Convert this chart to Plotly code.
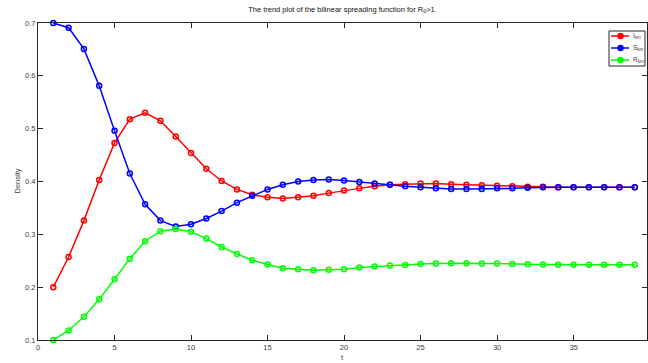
import plotly.graph_objects as go

t = list(range(1, 40))
I_km = [0.200, 0.257, 0.326, 0.403, 0.473, 0.518, 0.530, 0.515, 0.485, 0.454,
        0.424, 0.401, 0.385, 0.375, 0.370, 0.368, 0.370, 0.373, 0.378, 0.383,
        0.387, 0.391, 0.394, 0.395, 0.396, 0.396, 0.395, 0.394, 0.393, 0.392,
        0.391, 0.390, 0.390, 0.389, 0.389, 0.389, 0.389, 0.389, 0.389]
S_km = [0.700, 0.691, 0.651, 0.581, 0.496, 0.415, 0.357, 0.326, 0.315, 0.319,
        0.330, 0.344, 0.360, 0.373, 0.385, 0.394, 0.400, 0.403, 0.404, 0.402,
        0.399, 0.396, 0.394, 0.391, 0.389, 0.387, 0.386, 0.386, 0.386, 0.387,
        0.387, 0.388, 0.389, 0.389, 0.389, 0.389, 0.389, 0.389, 0.389]
R_km = [0.100, 0.118, 0.144, 0.177, 0.215, 0.254, 0.287, 0.306, 0.310, 0.305,
        0.292, 0.276, 0.263, 0.251, 0.243, 0.236, 0.234, 0.232, 0.233, 0.234,
        0.237, 0.239, 0.241, 0.242, 0.244, 0.245, 0.2455, 0.2455, 0.245, 0.245,
        0.244, 0.2436, 0.243, 0.2425, 0.2423, 0.2423, 0.2423, 0.2423, 0.2423]

series = [("I<sub>km</sub>", I_km, "#ff0000"),
          ("S<sub>km</sub>", S_km, "#0000ff"),
          ("R<sub>km</sub>", R_km, "#00ff00")]

xticks = [0, 5, 10, 15, 20, 25, 30, 35]
yticks = [0.1, 0.2, 0.3, 0.4, 0.5, 0.6, 0.7]

W, H = 648, 363
L, R, T, B = 38, 1, 23, 23
PW, PH = W - L - R, H - T - B
FONT = "Liberation Sans, Arial, sans-serif"

def px(xp):
    return (xp - L) / PW

def py(yp):
    return (H - B - yp) / PH

fig = go.Figure()
for name, vals, col in series:
    fig.add_trace(go.Scatter(
        x=t, y=vals, name=name, mode="lines+markers", showlegend=False,
        line=dict(color=col, width=1.5),
        marker=dict(symbol="circle-open", size=5, color=col, line=dict(width=1.5, color=col)),
        cliponaxis=False, hoverinfo="skip",
    ))

axis_common = dict(
    showline=True, linecolor="#262626", linewidth=1, mirror="ticks",
    ticks="inside", ticklen=5, tickcolor="#262626", tickwidth=1,
    showgrid=False, zeroline=False, automargin=False,
    tickfont=dict(family=FONT, size=7.5, color="#404040"),
)

# Custom compact legend (MATLAB style)
shapes = [dict(type="rect", xref="paper", yref="paper",
               x0=px(609), x1=px(645), y0=py(66), y1=py(31),
               line=dict(color="#262626", width=1), fillcolor="white", layer="above")]
annotations = []
rows = [36, 48, 60]
for (name, vals, col), ry in zip(series, rows):
    shapes.append(dict(type="line", xref="paper", yref="paper",
                       x0=px(611), x1=px(629), y0=py(ry), y1=py(ry),
                       line=dict(color=col, width=1.5), layer="above"))
    shapes.append(dict(type="circle", xref="paper", yref="paper",
                       xsizemode="pixel", ysizemode="pixel",
                       xanchor=px(620.5), yanchor=py(ry),
                       x0=-2.5, x1=2.5, y0=-2.5, y1=2.5,
                       line=dict(color=col, width=1.5), fillcolor=col, layer="above"))
    annotations.append(dict(text=name, xref="paper", yref="paper",
                            x=px(631), y=py(ry), xanchor="left", yanchor="middle",
                            showarrow=False,
                            font=dict(family=FONT, size=6.5, color="#404040")))

annotations.append(dict(text="t", xref="paper", yref="paper", x=0.5, y=py(357),
                        xanchor="center", yanchor="middle", showarrow=False,
                        font=dict(family=FONT, size=7.5, color="#404040")))
annotations.append(dict(text="Density", xref="paper", yref="paper", x=px(17), y=0.5,
                        xanchor="center", yanchor="middle", textangle=-90, showarrow=False,
                        font=dict(family=FONT, size=7.5, color="#404040")))

fig.update_layout(
    width=W, height=H,
    margin=dict(l=L, r=R, t=T, b=B, autoexpand=False),
    paper_bgcolor="white", plot_bgcolor="white",
    title=dict(text="The trend plot of the bilinear spreading function for R<sub>0</sub>>1.",
               x=(L + W - R) / 2 / W, xanchor="center", y=1 - 9 / H, yanchor="middle",
               font=dict(family=FONT, size=7.5, color="#111111")),
    xaxis=dict(range=[0, 39.8], tickvals=xticks, ticktext=[str(v) for v in xticks],
               **axis_common),
    yaxis=dict(range=[0.1, 0.7], tickvals=yticks, ticktext=[f"{v:.1f}" for v in yticks],
               **axis_common),
    shapes=shapes,
    annotations=annotations,
    showlegend=False,
    hovermode=False,
)

fig.write_html("out.html",
               config={"displayModeBar": False, "staticPlot": True},
               post_script="document.body.style.margin='0';document.body.style.overflow='hidden';")
